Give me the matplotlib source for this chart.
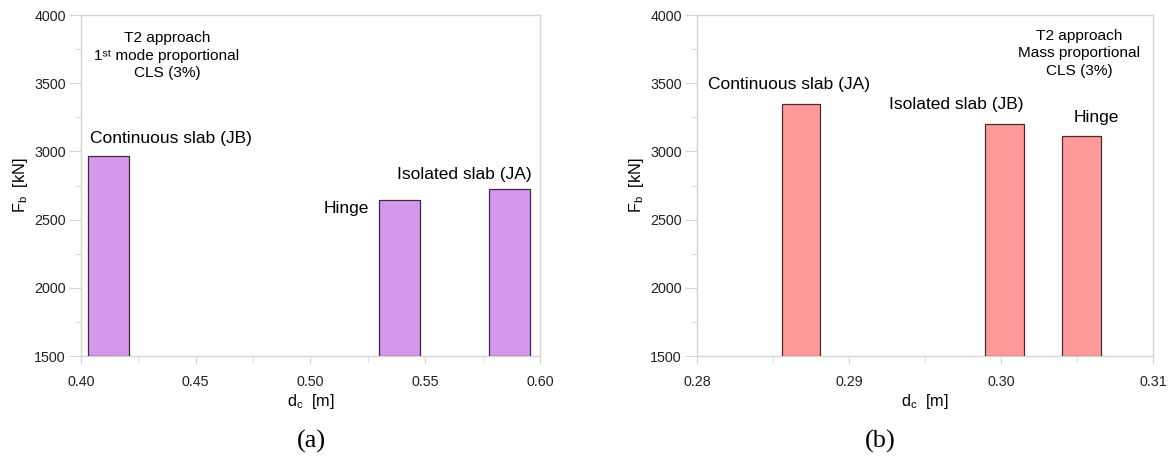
import matplotlib
matplotlib.use("Agg")
import matplotlib.pyplot as plt
from matplotlib.ticker import MultipleLocator, FormatStrFormatter

plt.rcParams['font.family'] = ['Liberation Sans', 'DejaVu Sans']
plt.rcParams['mathtext.fontset'] = 'custom'
plt.rcParams['mathtext.rm'] = 'Liberation Sans'
plt.rcParams['mathtext.it'] = 'Liberation Sans:italic'

# Data panel (a)
a_dc = [0.412, 0.5387, 0.5868]
a_fb = [2965, 2643, 2721]
a_labels = ["Continuous slab (JB)", "Hinge", "Isolated slab (JA)"]
# Data panel (b)
b_dc = [0.28685, 0.30022, 0.30532]
b_fb = [3346, 3199, 3114]
b_labels = ["Continuous slab (JA)", "Isolated slab (JB)", "Hinge"]

base = 1500
fig = plt.figure(figsize=(11.7, 4.63), dpi=100)
ax1 = fig.add_axes([0.0692, 0.2311, 0.3923, 0.7365])
ax2 = fig.add_axes([0.5957, 0.2311, 0.3897, 0.7365])

spine_c = '#d6d6d6'
for ax in (ax1, ax2):
    for s in ax.spines.values():
        s.set_color(spine_c)
        s.set_linewidth(1.0)
    ax.set_ylim(1500, 4000)
    ax.yaxis.set_major_locator(MultipleLocator(500))
    ax.yaxis.set_minor_locator(MultipleLocator(250))
    ax.tick_params(which='major', axis='y', length=9, color=spine_c, labelsize=10.3, labelcolor='#222222', pad=2)
    ax.tick_params(which='major', axis='x', length=6, color=spine_c, labelsize=10.3, labelcolor='#222222', pad=8)
    ax.tick_params(which='minor', length=4, color=spine_c)
    ax.set_xlabel(r"d$_\mathrm{c}$  [m]", fontsize=11.7, labelpad=2)
    ax.set_ylabel(r"F$_\mathrm{b}$  [kN]", fontsize=11.7, labelpad=3)

ann = dict(fontsize=12.5)
blk = dict(fontsize=11.1, linespacing=1.32, ha='center', va='center')

# Panel (a)
ax1.set_xlim(0.40, 0.60)
ax1.xaxis.set_major_locator(MultipleLocator(0.05))
ax1.xaxis.set_minor_locator(MultipleLocator(0.025))
ax1.xaxis.set_major_formatter(FormatStrFormatter('%.2f'))
ax1.bar(a_dc, [v - base for v in a_fb], bottom=base, width=0.018,
        color='#d597ea', edgecolor='#3e2c46', linewidth=0.9, zorder=3)
ax1.text(0.4375, 3700, "T2 approach\n1\u02e2\u1d57 mode proportional\nCLS (3%)", **blk)
ax1.text(0.4039, 3091, a_labels[0], ha='left', va='center', **ann)
ax1.text(0.5255, 2585, a_labels[1], ha='right', va='center', **ann)
ax1.text(0.5965, 2827, a_labels[2], ha='right', va='center', **ann)

# Panel (b)
ax2.set_xlim(0.28, 0.31)
ax2.xaxis.set_major_locator(MultipleLocator(0.01))
ax2.xaxis.set_minor_locator(MultipleLocator(0.005))
ax2.xaxis.set_major_formatter(FormatStrFormatter('%.2f'))
ax2.bar(b_dc, [v - base for v in b_fb], bottom=base, width=0.00255,
        color='#ff9a9a', edgecolor='#4a2c2c', linewidth=0.9, zorder=3)
ax2.text(0.30513, 3718, "T2 approach\nMass proportional\nCLS (3%)", **blk)
ax2.text(0.28072, 3494, b_labels[0], ha='left', va='center', **ann)
ax2.text(0.29263, 3347, b_labels[1], ha='left', va='center', **ann)
ax2.text(0.30625, 3245, b_labels[2], ha='center', va='center', **ann)

fig.text(311/1170, 1 - 441/463, "(a)", ha='center', va='center',
         fontsize=19, family=['Liberation Serif', 'DejaVu Serif'])
fig.text(880/1170, 1 - 441/463, "(b)", ha='center', va='center',
         fontsize=19, family=['Liberation Serif', 'DejaVu Serif'])

fig.savefig("out.png", dpi=100)
